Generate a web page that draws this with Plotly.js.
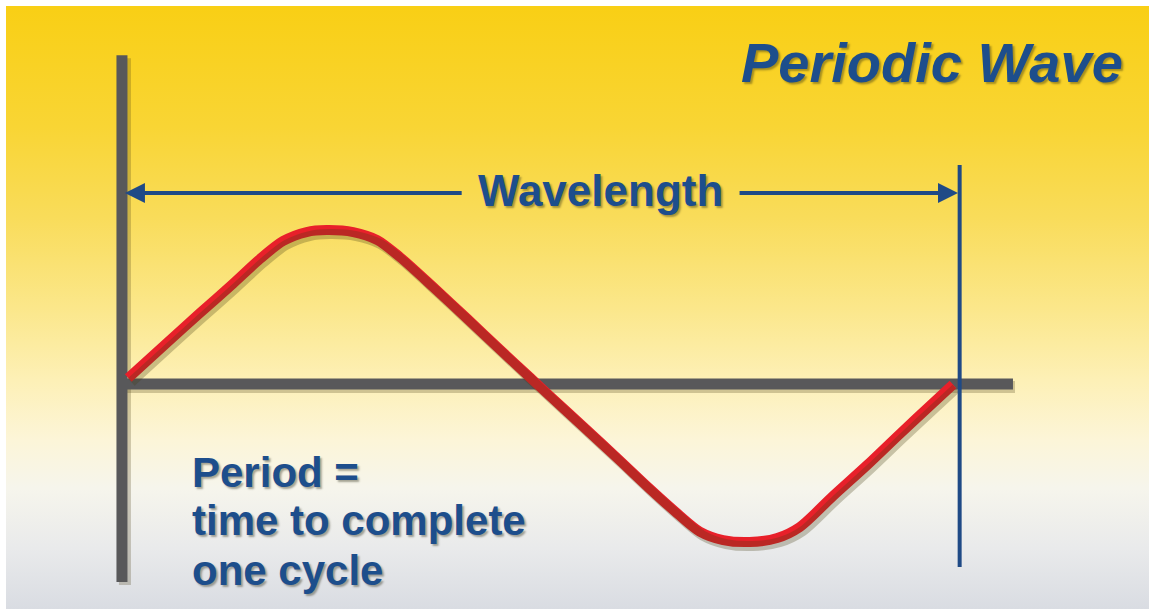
<!DOCTYPE html>
<html>
<head>
<meta charset="utf-8">
<script src="https://cdn.plot.ly/plotly-3.0.1.min.js"></script>
<style>
  html, body { margin: 0; padding: 0; background: #ffffff; width: 1151px; height: 609px; overflow: hidden; }
  #bg {
    position: absolute; left: 6px; top: 6px; width: 1143px; height: 603px;
    background: linear-gradient(to bottom,
      #f9cf15 0%, #f9d534 20%, #f9dc5a 35%, #fbe78a 50%,
      #fdf0b6 62%, #fcf5d8 72%, #f6f5ec 80%, #e9eaeb 90%, #d9dce2 100%);
  }
  #chart { position: absolute; left: 0; top: 0; width: 1151px; height: 609px; }
</style>
</head>
<body>
<div id="bg"></div>
<div id="chart"></div>
<script>
// One cycle of the periodic wave: time as a fraction of the period, displacement relative to amplitude
const time = [0.004, 0.050, 0.090, 0.130, 0.162, 0.190, 0.218, 0.242, 0.274, 0.303,
              0.330, 0.370, 0.411, 0.450, 0.486, 0.510, 0.550, 0.591, 0.630, 0.663,
              0.690, 0.718, 0.750, 0.783, 0.810, 0.850, 0.891, 0.930, 0.970, 0.994];
const displacement = [0.039, 0.266, 0.461, 0.653, 0.812, 0.929, 0.987, 1.000, 0.987, 0.935,
                      0.825, 0.630, 0.424, 0.225, 0.044, -0.077, -0.276, -0.481, -0.680, -0.840,
                      -0.958, -1.013, -1.026, -1.000, -0.929, -0.727, -0.526, -0.325, -0.123, -0.003];
// Start and end of one wavelength (in periods)
const wavelengthBounds = [0, 1];

const titleText = "Periodic Wave";
const wavelengthLabel = "Wavelength";
const periodLines = ["Period =", "time to complete", "one cycle"];

const W = 1151, H = 609;
const xRange = [-0.150, 1.2317];
const yRange = [-1.461, 2.494];
const pxX = (xRange[1] - xRange[0]) / W;
const pxY = (yRange[1] - yRange[0]) / H;

const textBlue = "#1d4e8c";
const fontFam = "Liberation Sans, Arial, sans-serif";
const textShadow = "2px 2px 2px rgba(40,40,20,0.4)";

const traces = [
  { // soft shadow of the wave
    x: time, y: displacement, xaxis: "x2", yaxis: "y2",
    type: "scatter", mode: "lines",
    line: { color: "rgba(70,60,20,0.28)", width: 10, shape: "spline", smoothing: 0.8 },
    hoverinfo: "skip", showlegend: false
  },
  {
    x: time, y: displacement,
    type: "scatter", mode: "lines",
    line: { color: "#e8202a", width: 10, shape: "spline", smoothing: 0.8 },
    hoverinfo: "skip", showlegend: false
  }
];

const axisOff = { visible: false, showgrid: false, zeroline: false, fixedrange: true };

const arrowY = 1.240;
const layout = {
  width: W, height: H,
  margin: { l: 0, r: 0, t: 0, b: 0, pad: 0 },
  paper_bgcolor: "rgba(0,0,0,0)",
  plot_bgcolor: "rgba(0,0,0,0)",
  showlegend: false,
  xaxis: Object.assign({ range: xRange }, axisOff),
  yaxis: Object.assign({ range: yRange }, axisOff),
  xaxis2: Object.assign({ range: [xRange[0] - 3 * pxX, xRange[1] - 3 * pxX], overlaying: "x" }, axisOff),
  yaxis2: Object.assign({ range: [yRange[0] + 4 * pxY, yRange[1] + 4 * pxY], overlaying: "y" }, axisOff),
  shapes: [
    // shadows of the gray axes
    { type: "line", layer: "below", x0: -0.0036 + 3 * pxX, x1: -0.0036 + 3 * pxX, y0: 2.136 - 3 * pxY, y1: -1.286 - 3 * pxY,
      line: { color: "rgba(70,60,20,0.25)", width: 12 } },
    { type: "line", layer: "below", x0: -0.0036, x1: 1.066 + 2 * pxX, y0: -3 * pxY, y1: -3 * pxY,
      line: { color: "rgba(70,60,20,0.25)", width: 12 } },
    // gray axes
    { type: "line", layer: "below", x0: -0.0036, x1: -0.0036, y0: 2.136, y1: -1.286,
      line: { color: "#58585a", width: 11 } },
    { type: "line", layer: "below", x0: -0.0036, x1: 1.066, y0: 0, y1: 0,
      line: { color: "#58585a", width: 11 } },
    // blue end-of-wavelength marker
    { type: "line", layer: "above", x0: wavelengthBounds[1] + 0.002, x1: wavelengthBounds[1] + 0.002, y0: 1.422, y1: -1.188,
      line: { color: "#1f4a86", width: 4 } }
  ],
  annotations: [
    { // title
      xref: "paper", yref: "paper", x: 1125 / W, y: 1 - 63 / H,
      xanchor: "right", yanchor: "middle", showarrow: false,
      text: "<b><i>" + titleText + "</i></b>",
      font: { family: fontFam, size: 56, color: textBlue, shadow: textShadow }
    },
    { // wavelength label
      xref: "paper", yref: "paper", x: 601 / W, y: 1 - 190 / H,
      xanchor: "center", yanchor: "middle", showarrow: false,
      text: "<b>" + wavelengthLabel + "</b>",
      font: { family: fontFam, size: 44, color: textBlue, shadow: textShadow }
    },
    { // left arrow
      xref: "x", yref: "y", axref: "x", ayref: "y",
      x: wavelengthBounds[0], y: arrowY, ax: 0.406, ay: arrowY,
      text: "", showarrow: true, arrowhead: 2, arrowsize: 1, arrowwidth: 4,
      arrowcolor: "#1f4a86", standoff: 0, startstandoff: 0
    },
    { // right arrow
      xref: "x", yref: "y", axref: "x", ayref: "y",
      x: wavelengthBounds[1], y: arrowY, ax: 0.736, ay: arrowY,
      text: "", showarrow: true, arrowhead: 2, arrowsize: 1, arrowwidth: 4,
      arrowcolor: "#1f4a86", standoff: 0, startstandoff: 0
    }
  ]
};

const periodYs = [472, 520, 570];
periodLines.forEach((t, i) => {
  layout.annotations.push({
    xref: "paper", yref: "paper", x: 190 / W, y: 1 - periodYs[i] / H,
    xanchor: "left", yanchor: "middle", showarrow: false,
    text: "<b>" + t + "</b>",
    font: { family: fontFam, size: 42, color: textBlue, shadow: textShadow }
  });
});

Plotly.newPlot("chart", traces, layout, { displayModeBar: false, staticPlot: true });
</script>
</body>
</html>
